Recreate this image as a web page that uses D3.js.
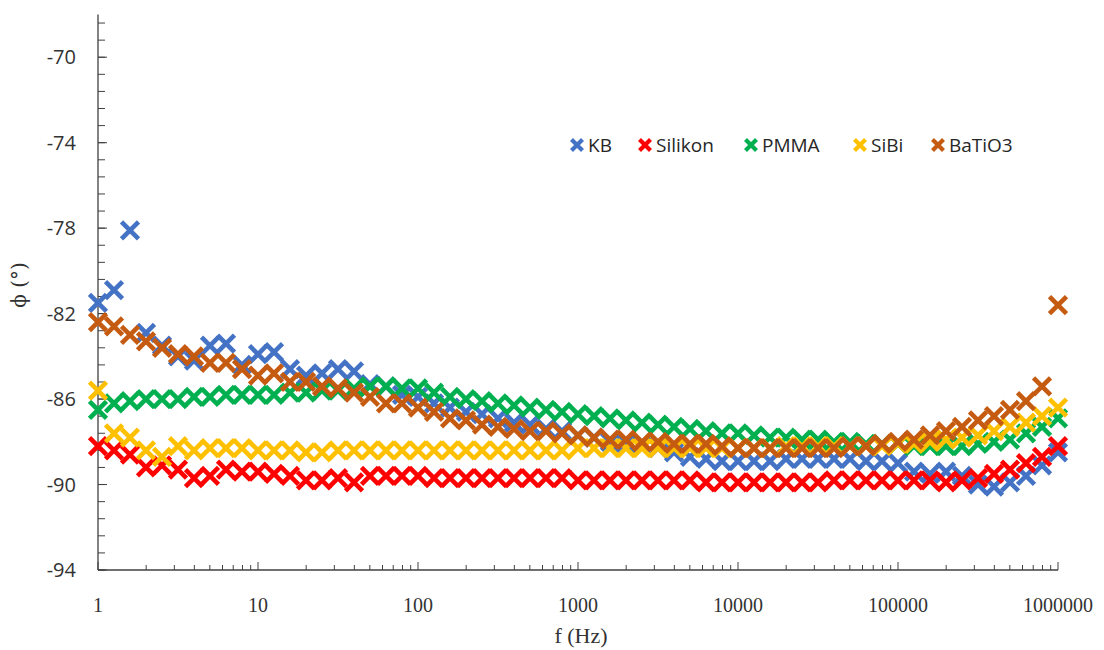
<!DOCTYPE html>
<html>
<head>
<meta charset="utf-8">
<script src="https://cdn.jsdelivr.net/npm/d3@7"></script>
<style>
  body { margin: 0; background: white; }
  svg { display: block; }
</style>
</head>
<body>
<div id="container"></div>
<script>
// frequencies (Hz), 10 points per decade
var freq = [1, 1.259, 1.585, 1.995, 2.512, 3.162, 3.981, 5.012, 6.310, 7.943,
  10, 12.59, 15.85, 19.95, 25.12, 31.62, 39.81, 50.12, 63.10, 79.43,
  100, 125.9, 158.5, 199.5, 251.2, 316.2, 398.1, 501.2, 631.0, 794.3,
  1000, 1259, 1585, 1995, 2512, 3162, 3981, 5012, 6310, 7943,
  10000, 12589, 15849, 19953, 25119, 31623, 39811, 50119, 63096, 79433,
  100000, 125893, 158489, 199526, 251189, 316228, 398107, 501187, 630957, 794328,
  1000000];

var kb = [-81.5, -80.9, -78.1, -82.9, -83.5, -84.0, -84.2, -83.5, -83.4, -84.4,
  -83.9, -83.8, -84.6, -84.9, -84.8, -84.6, -84.7, -85.3, -85.4, -85.8,
  -85.9, -86.2, -86.4, -86.6, -86.7, -86.9, -87.1, -87.2, -87.4, -87.5,
  -87.7, -87.8, -88.0, -88.1, -88.2, -88.3, -88.5, -88.7, -88.8, -88.9,
  -88.9, -88.9, -88.9, -88.8, -88.8, -88.8, -88.8, -88.8, -88.9, -88.9,
  -89.0, -89.4, -89.5, -89.4, -89.6, -90.0, -90.1, -89.9, -89.6, -89.1,
  -88.5];

var silikon = [-88.2, -88.4, -88.6, -89.2, -89.1, -89.3, -89.7, -89.6, -89.3, -89.4,
  -89.4, -89.5, -89.6, -89.8, -89.8, -89.7, -89.9, -89.6, -89.6, -89.6,
  -89.6, -89.7, -89.7, -89.7, -89.7, -89.7, -89.7, -89.7, -89.7, -89.7,
  -89.8, -89.8, -89.8, -89.8, -89.8, -89.8, -89.8, -89.8, -89.9, -89.9,
  -89.9, -89.9, -89.9, -89.9, -89.9, -89.9, -89.8, -89.8, -89.8, -89.8,
  -89.8, -89.8, -89.8, -89.9, -89.8, -89.7, -89.5, -89.3, -89.0, -88.7,
  -88.2];

var pmma = [-86.5, -86.2, -86.1, -86.0, -86.0, -86.0, -85.9, -85.9, -85.8, -85.8,
  -85.8, -85.8, -85.7, -85.7, -85.6, -85.6, -85.5, -85.4, -85.4, -85.5,
  -85.5, -85.7, -85.9, -86.0, -86.1, -86.2, -86.3, -86.4, -86.5, -86.6,
  -86.7, -86.8, -86.9, -87.0, -87.1, -87.2, -87.3, -87.4, -87.5, -87.6,
  -87.6, -87.7, -87.8, -87.8, -87.9, -87.9, -88.0, -88.0, -88.1, -88.1,
  -88.1, -88.2, -88.2, -88.2, -88.2, -88.1, -88.0, -87.9, -87.6, -87.3,
  -86.9];

var sibi = [-85.6, -87.6, -87.8, -88.4, -88.7, -88.2, -88.4, -88.3, -88.3, -88.3,
  -88.4, -88.4, -88.4, -88.5, -88.5, -88.4, -88.4, -88.4, -88.4, -88.4,
  -88.4, -88.4, -88.4, -88.4, -88.4, -88.4, -88.4, -88.4, -88.4, -88.4,
  -88.3, -88.3, -88.3, -88.3, -88.3, -88.3, -88.3, -88.3, -88.3, -88.3,
  -88.3, -88.3, -88.3, -88.2, -88.2, -88.2, -88.2, -88.2, -88.2, -88.2,
  -88.1, -88.1, -88.0, -87.9, -87.8, -87.7, -87.5, -87.3, -87.1, -86.8,
  -86.4];

var batio3 = [-82.4, -82.6, -83.0, -83.3, -83.6, -83.9, -84.0, -84.3, -84.3, -84.6,
  -84.9, -84.8, -85.2, -85.2, -85.4, -85.5, -85.7, -85.9, -86.2, -86.2,
  -86.4, -86.6, -86.9, -87.0, -87.2, -87.3, -87.4, -87.5, -87.5, -87.6,
  -87.7, -87.8, -87.9, -87.9, -88.0, -88.0, -88.1, -88.1, -88.1, -88.2,
  -88.3, -88.3, -88.3, -88.3, -88.3, -88.3, -88.3, -88.2, -88.2, -88.1,
  -88.0, -87.9, -87.7, -87.5, -87.3, -87.0, -86.8, -86.5, -86.1, -85.4,
  -81.6];

var seriesNames = ["KB", "Silikon", "PMMA", "SiBi", "BaTiO3"];
var seriesValues = [kb, silikon, pmma, sibi, batio3];
var seriesColors = ["#4472C4", "#FF0000", "#00B050", "#FFC000", "#C55A11"];

var xTicks = [1, 10, 100, 1000, 10000, 100000, 1000000];
var yTicks = [-94, -90, -86, -82, -78, -74, -70];

var W = 1104, H = 650;
var svg = d3.select("#container").append("svg")
    .attr("width", W)
    .attr("height", H)
    .style("background", "white");

var x = d3.scaleLog().domain([1, 1000000]).range([98, 1058]);
var y = d3.scaleLinear().domain([-94, -68]).range([570, 14.5]);

var axisColor = "#404040";

// y axis: minor ticks every 0.8, major every 4, drawn inside
var minorY = d3.range(0, 33).map(function(k) { return -94 + k * 0.8; })
  .filter(function(v) { return v <= -68; });
var yAxis = svg.append("g");
yAxis.append("line")
  .attr("x1", 98).attr("x2", 98)
  .attr("y1", y(-68)).attr("y2", y(-94))
  .attr("stroke", axisColor).attr("stroke-width", 1.3);
yAxis.selectAll(".ymin").data(minorY).enter().append("line")
  .attr("x1", 98).attr("x2", 105)
  .attr("y1", function(d) { return y(d); })
  .attr("y2", function(d) { return y(d); })
  .attr("stroke", axisColor).attr("stroke-width", 1);
yAxis.selectAll(".ymaj").data(yTicks).enter().append("line")
  .attr("x1", 98).attr("x2", 107)
  .attr("y1", function(d) { return y(d); })
  .attr("y2", function(d) { return y(d); })
  .attr("stroke", axisColor).attr("stroke-width", 1);
yAxis.selectAll("text").data(yTicks).enter().append("text")
  .attr("x", 76)
  .attr("y", function(d) { return y(d); })
  .attr("dy", "0.36em")
  .attr("text-anchor", "end")
  .style("font-family", "'Open Sans', sans-serif")
  .style("font-size", "20px")
  .style("fill", "#333")
  .text(function(d) { return d; });

// x axis: log ticks, minor 2..9 inside
var minorX = [];
[1, 10, 100, 1000, 10000, 100000].forEach(function(dec) {
  for (var m = 2; m <= 9; m++) minorX.push(dec * m);
});
var xAxis = svg.append("g");
xAxis.append("line")
  .attr("x1", 98).attr("x2", 1058)
  .attr("y1", 570).attr("y2", 570)
  .attr("stroke", axisColor).attr("stroke-width", 1.3);
xAxis.selectAll(".xmin").data(minorX).enter().append("line")
  .attr("x1", function(d) { return x(d); })
  .attr("x2", function(d) { return x(d); })
  .attr("y1", 570).attr("y2", 565)
  .attr("stroke", axisColor).attr("stroke-width", 1);
xAxis.selectAll(".xmaj").data(xTicks).enter().append("line")
  .attr("x1", function(d) { return x(d); })
  .attr("x2", function(d) { return x(d); })
  .attr("y1", 570).attr("y2", 562)
  .attr("stroke", axisColor).attr("stroke-width", 1);
xAxis.selectAll("text").data(xTicks).enter().append("text")
  .attr("x", function(d) { return x(d); })
  .attr("y", 605)
  .attr("dy", "0.36em")
  .attr("text-anchor", "middle")
  .style("font-family", "'Liberation Serif', serif")
  .style("font-size", "20px")
  .style("fill", "#333")
  .text(function(d) { return d; });

// axis titles
svg.append("text")
  .attr("x", 581).attr("y", 643)
  .attr("text-anchor", "middle")
  .style("font-family", "'Liberation Serif', serif")
  .style("font-size", "22px")
  .style("fill", "#333")
  .text("f (Hz)");
svg.append("text")
  .attr("transform", "translate(26,285) rotate(-90)")
  .attr("text-anchor", "middle")
  .style("font-family", "'DejaVu Serif', serif")
  .style("font-size", "20px")
  .style("fill", "#333")
  .text("\u03D5 (\u00B0)");

// markers
var xMark = "M-8.5,-8.5L8.5,8.5M-8.5,8.5L8.5,-8.5";
seriesValues.forEach(function(vals, s) {
  svg.append("g").selectAll("path")
    .data(vals)
    .enter()
    .append("path")
    .attr("d", xMark)
    .attr("transform", function(d, i) {
      return "translate(" + x(freq[i]) + "," + y(d) + ")";
    })
    .attr("fill", "none")
    .attr("stroke", seriesColors[s])
    .attr("stroke-width", 4.6);
});

// legend
var legendX = [577, 645, 751, 860, 938];
var leg = svg.append("g");
seriesNames.forEach(function(name, s) {
  var g = leg.append("g").attr("transform", "translate(" + legendX[s] + ",145)");
  g.append("path")
    .attr("d", "M-5.5,-5.5L5.5,5.5M-5.5,5.5L5.5,-5.5")
    .attr("fill", "none")
    .attr("stroke", seriesColors[s])
    .attr("stroke-width", 4.2);
  g.append("text")
    .attr("x", 11).attr("y", 0)
    .attr("dy", "0.36em")
    .style("font-family", "'Open Sans', sans-serif")
    .style("font-size", "19px")
    .style("fill", "#262626")
    .text(name);
});
</script>
</body>
</html>
